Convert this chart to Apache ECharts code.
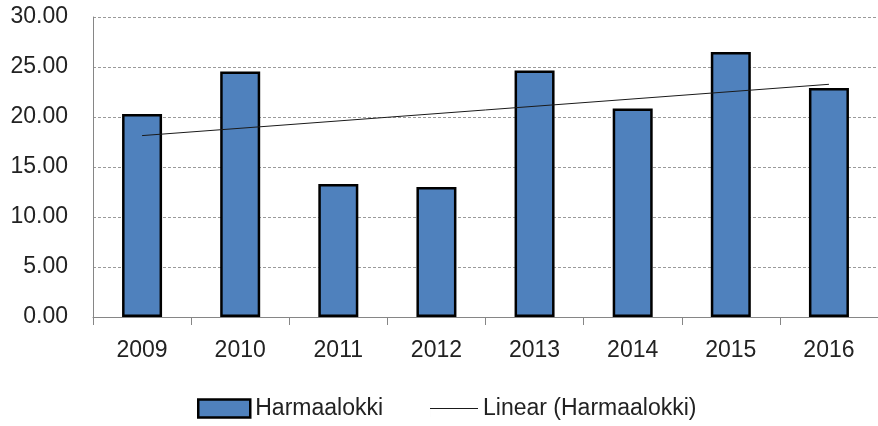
<!DOCTYPE html>
<html>
<head>
<meta charset="utf-8">
<script src="https://cdn.jsdelivr.net/npm/echarts@6/dist/echarts.min.js"></script>
<style>html,body{margin:0;padding:0;background:#fff}#c{width:878px;height:426px}</style>
</head>
<body>
<div id="c"></div>
<script>
const categories = ['2009','2010','2011','2012','2013','2014','2015','2016'];
const values = [20.3, 24.55, 13.3, 13.0, 24.65, 20.85, 26.5, 22.9];
const trendCats = ['2009','2016'];
const trendValues = [18.14, 23.27];
const seriesName = 'Harmaalokki';
const trendName = 'Linear (Harmaalokki)';

const chart = echarts.init(document.getElementById('c'), null, {renderer:'canvas'});
const font = 'Liberation Sans, Arial, sans-serif';
const legendText = {fontSize: 23, fontFamily: font, color: '#222'};
chart.setOption({
  animation: false,
  grid: {left: 93, top: 17, width: 789, height: 300, containLabel: false},
  xAxis: {
    type: 'category', data: categories,
    axisLine: {lineStyle: {color: '#868686', width: 1}},
    axisTick: {show: true, length: 8, lineStyle: {color: '#868686'}},
    axisLabel: {color: '#222', fontSize: 23, fontFamily: font, margin: 22}
  },
  yAxis: {
    type: 'value', min: 0, max: 30, interval: 5,
    axisLine: {show: true, lineStyle: {color: '#868686'}},
    axisTick: {show: false},
    axisLabel: {color: '#222', fontSize: 23, fontFamily: font, margin: 25,
      formatter: v => v.toFixed(2)},
    splitLine: {lineStyle: {color: '#9a9a9a', type: [3, 2], width: 1}}
  },
  legend: [
    {
      left: 197, top: 397, itemWidth: 52, itemHeight: 18, itemGap: 0, padding: 0,
      textStyle: legendText,
      data: [{name: seriesName, icon: 'rect', itemStyle: {borderColor: '#000', borderWidth: 2.5}}]
    },
    {
      left: 430, top: 397, itemWidth: 48, itemHeight: 18, itemGap: 0, padding: 0,
      textStyle: legendText,
      data: [{name: trendName,
        icon: 'path://M0,0L0.01,0L0.01,18L0,18Z M0,8.5L48,8.5L48,9.6L0,9.6Z',
        itemStyle: {color: '#1a1a1a', borderWidth: 0}}]
    }
  ],
  series: [
    {
      name: seriesName, type: 'bar', data: values, barWidth: 40,
      itemStyle: {color: '#4F81BD', borderColor: '#000', borderWidth: 2.5}
    },
    {
      name: trendName, type: 'line', symbol: 'none',
      data: trendCats.map((c, i) => [c, trendValues[i]]),
      lineStyle: {color: '#1a1a1a', width: 1},
      itemStyle: {color: '#1a1a1a'}
    }
  ]
});
</script>
</body>
</html>
